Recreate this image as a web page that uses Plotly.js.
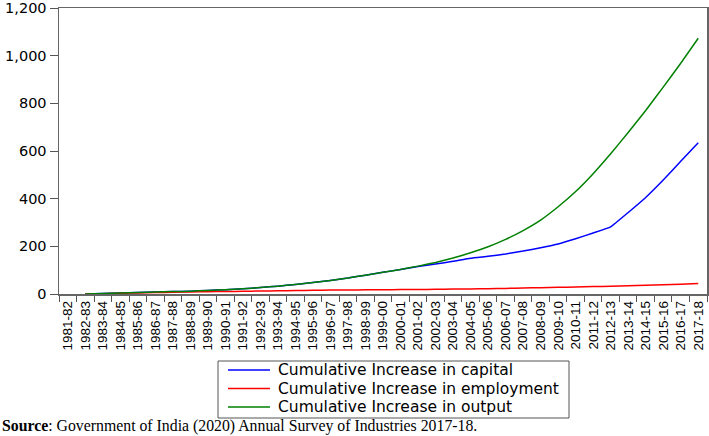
<!DOCTYPE html>
<html><head><meta charset="utf-8">
<script src="https://cdn.plot.ly/plotly-3.0.1.min.js"></script>
<style>html,body{margin:0;padding:0;background:#fff}#chart{width:709px;height:436px}</style>
</head><body><div id="chart"></div>
<script>
const years = ["1981-82","1982-83","1983-84","1984-85","1985-86","1986-87","1987-88","1988-89","1989-90","1990-91","1991-92","1992-93","1993-94","1994-95","1995-96","1996-97","1997-98","1998-99","1999-00","2000-01","2001-02","2002-03","2003-04","2004-05","2005-06","2006-07","2007-08","2008-09","2009-10","2010-11","2011-12","2012-13","2013-14","2014-15","2015-16","2016-17","2017-18"];
const capital = [null,0,2,4,6,8,10,12,15,18,22,27,33,40,48,57,67,79,91,103,115,126,137,150,158,168,180,194,210,232,256,282,342,405,478,557,635];
const employment = [null,0,1.5,3,4.5,6,7.5,8.5,9.5,10.5,11.5,12.5,13.5,14.5,15.5,16.5,17,17.5,18,18.5,19,19.5,20.5,21.5,22.5,23.5,25,26.5,28,29.5,31,33,35,37,39,41,44];
const output = [null,0,2,4,6,8,10,12,15,18,22,27,33,40,48,57,67,79,91,103,117,132,151,173,198,229,266,310,366,430,505,588,678,770,868,968,1073];
const names = ["Cumulative Increase in capital","Cumulative Increase in employment","Cumulative Increase in output"];
const colors = ["#0000ff","#ff0000","#008000"];
const series = [capital, employment, output];
const traces = series.map((s,k)=>({x:years,y:s,type:"scatter",mode:"lines",name:names[k],line:{color:colors[k],width:1.5,shape:"spline",smoothing:0.3}}));

// custom legend (box + sample lines + labels) in paper coordinates
const PL=59, PW=648, PB=294, PH=286;
const px=v=>(v-PL)/PW, py=v=>(PB-v)/PH;
const rowY=[370,388.5,407];
const shapes=[{type:"rect",xref:"paper",yref:"paper",x0:px(218),x1:px(569),y0:py(418),y1:py(361),line:{color:"#555",width:1},fillcolor:"#fff"}];
const annotations=[];
names.forEach((n,k)=>{
  shapes.push({type:"line",xref:"paper",yref:"paper",x0:px(228),x1:px(270),y0:py(rowY[k]),y1:py(rowY[k]),line:{color:colors[k],width:1.5}});
  annotations.push({xref:"paper",yref:"paper",x:px(277),xanchor:"left",y:py(rowY[k]),yanchor:"middle",borderpad:0,showarrow:false,text:n,font:{family:"DejaVu Sans, sans-serif",size:15.5,color:"#000"}});
});
annotations.push({xref:"paper",yref:"paper",x:px(0),xanchor:"left",y:py(426),yanchor:"middle",showarrow:false,text:"<b>Source</b>: Government of India (2020) Annual Survey of Industries 2017-18.",font:{family:"Liberation Serif, Times New Roman, serif",size:15.8,color:"#000"}});

const layout = {
  width:709,height:436,
  margin:{l:59,r:2,t:8,b:142},
  paper_bgcolor:"#fff",plot_bgcolor:"#fff",
  font:{family:"Liberation Sans, Arial, sans-serif",color:"#000",size:13},
  showlegend:false,
  xaxis:{type:"category",range:[-0.5,36.5],tickangle:-90,ticks:"outside",tickson:"boundaries",ticklen:6,tickcolor:"#555",showline:true,linecolor:"#666",linewidth:1.5,mirror:true,showgrid:false,zeroline:false,tickfont:{size:13.5}},
  yaxis:{range:[0,1200],tickvals:[0,200,400,600,800,1000,1200],tickformat:",d",ticks:"outside",ticklen:8,tickcolor:"#555",showline:true,linecolor:"#666",linewidth:1.5,mirror:true,showgrid:false,zeroline:false,tickfont:{family:"DejaVu Sans, sans-serif",size:14.5}},
  shapes:shapes,
  annotations:annotations
};
Plotly.newPlot("chart",traces,layout,{displayModeBar:false,staticPlot:true});
</script></body></html>
